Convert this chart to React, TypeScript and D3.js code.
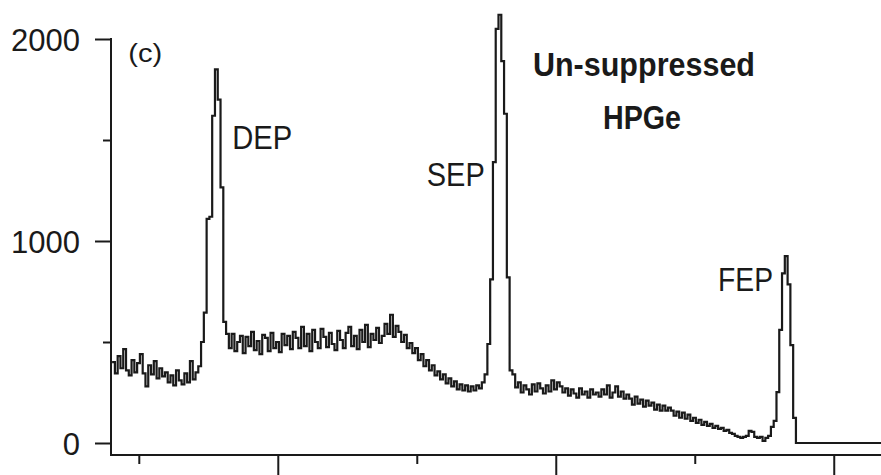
import React, { useEffect, useRef } from "react";
import * as d3 from "d3";

// gamma spectrum, 5 keV bins starting at 1202 keV (counts)
const binStart = 1202;
const binWidth = 5;
const counts = [
  // below DEP
  400, 345, 430, 370, 465, 360, 335, 410, 350, 395, 440, 345,
  280, 385, 340, 405, 320, 370, 330,
  350, 300, 335, 285, 360, 310, 290, 345, 300, 405, 315, 350,
  // DEP
  380, 500, 645, 1110, 1120, 1620, 1850, 1700, 1265, 600,
  540,
  // plateau between DEP and SEP
  470, 540, 455, 500, 530, 445, 525, 480, 550, 460, 505, 440, 535, 520, 455, 545, 470, 500, 450, 540, 485, 530,
  465, 550, 520, 470, 575, 480, 540, 455, 560, 500, 470, 565, 525, 475, 545,
  490, 460, 555, 510, 470, 545, 575, 480, 530, 465, 560, 500, 585, 475, 540, 510, 570, 495,
  530, 590, 540, 635, 525, 580, 550,
  500, 535, 470, 495, 445, 470, 410, 440, 380, 410, 360, 385, 335, 355, 315, 340,
  295, 320, 280, 305, 265, 290, 260, 285, 255, 280, 260, 285, 270, 300, 340,
  // SEP
  490, 810, 1390, 2050, 2120, 1890, 1630, 820, 360,
  // between SEP and FEP
  340, 275, 300, 250, 285, 265, 240, 290, 255, 295, 270, 245, 285, 255,
  310, 265, 300, 280, 250, 270,
  235, 265, 245, 225, 270, 240, 255, 225, 265, 240, 250,
  230, 265, 240, 285, 225, 250, 280, 230, 255, 220, 240,
  220, 190, 230, 195, 215, 180, 210, 185,
  200, 165, 190, 160, 185, 160, 175,
  160, 135, 155, 125, 150, 120, 140,
  110, 125, 100, 115, 90, 105, 85, 95, 75, 85, 70, 75, 60, 65, 50, 45, 35, 30,
  25, 30, 35, 60, 55, 30, 25, 30, 10, 25, 35,
  // FEP
  80, 110, 252, 560, 840, 925, 785, 485, 124,
  // above FEP
  0, 0, 0, 0, 0, 0, 0, 0, 0, 0,
  0, 0, 0, 0, 0, 0, 0, 0, 0, 0,
  0, 0, 0, 0, 0, 0, 0, 0, 0, 0,
];

const yMajorTicks = [0, 1000, 2000];
const yMinorTicks = [500, 1500];
const xMajorTicks = [1500, 2000, 2500];
const xMinorTicks = [1250, 1750, 2250];

const peakNames = ["DEP", "SEP", "FEP"];
const panelTag = "(c)";
const titleLines = ["Un-suppressed", "HPGe"];

const App = () => {
  const svgRef = useRef<SVGSVGElement>(null);

  useEffect(() => {
    const svg = d3.select(svgRef.current);
    svg.selectAll("*").remove();

    const x = d3.scaleLinear().domain([1200, 2585]).range([111, 881]);
    const y = d3.scaleLinear().domain([0, 2000]).range([443, 39]);
    const axisY = 455;
    const font = "'Liberation Sans', Arial, Helvetica, sans-serif";
    const ink = "#1a1a1a";

    // spectrum as a step line
    const pts: [number, number][] = counts.map((c, i) => [binStart + i * binWidth, c]);
    pts.push([x.domain()[1], counts[counts.length - 1]]);
    const line = d3
      .line<[number, number]>()
      .x((d) => x(d[0]))
      .y((d) => y(d[1]))
      .curve(d3.curveStepAfter);
    svg
      .append("path")
      .datum(pts)
      .attr("d", line)
      .attr("fill", "none")
      .attr("stroke", ink)
      .attr("stroke-width", 2.2);

    // y axis
    const gy = svg.append("g").attr("transform", "translate(111,0)");
    gy.append("g").call(
      d3.axisLeft(y).tickValues(yMajorTicks).tickSize(16).tickSizeOuter(0).tickPadding(15).tickFormat(d3.format("d"))
    );
    gy.append("g").call(d3.axisLeft(y).tickValues(yMinorTicks).tickSize(8).tickSizeOuter(0).tickFormat(() => ""));
    gy.selectAll(".domain").remove();
    gy.selectAll("line").attr("stroke", ink).attr("stroke-width", 2);
    gy.selectAll("text")
      .attr("font-family", font)
      .attr("font-size", 31)
      .attr("fill", ink)
      .attr("dy", "0.36em");
    gy.append("line").attr("x1", 0).attr("x2", 0).attr("y1", y(2000) - 1).attr("y2", axisY + 1)
      .attr("stroke", ink).attr("stroke-width", 2);

    // x axis (no labels)
    const gx = svg.append("g").attr("transform", `translate(0,${axisY})`);
    gx.append("g").call(d3.axisBottom(x).tickValues(xMajorTicks).tickSize(22).tickSizeOuter(0).tickFormat(() => ""));
    gx.append("g").call(d3.axisBottom(x).tickValues(xMinorTicks).tickSize(9).tickSizeOuter(0).tickFormat(() => ""));
    gx.selectAll(".domain").remove();
    gx.selectAll("line").attr("stroke", ink).attr("stroke-width", 2);
    gx.append("line").attr("x1", 110).attr("x2", 881).attr("y1", 0).attr("y2", 0)
      .attr("stroke", ink).attr("stroke-width", 2);

    // annotations, anchored in data units
    const labels = [
      { text: panelTag, e: 1231, c: 1886, size: 26, weight: "normal", len: 34 },
      { text: peakNames[0], e: 1418, c: 1455, size: 33, weight: "normal", len: 60 },
      { text: peakNames[1], e: 1768, c: 1272, size: 33, weight: "normal", len: 58 },
      { text: peakNames[2], e: 2292, c: 752, size: 33, weight: "normal", len: 55 },
      { text: titleLines[0], e: 1959, c: 1817, size: 33, weight: "bold", len: 222 },
      { text: titleLines[1], e: 2085, c: 1554, size: 33, weight: "bold", len: 78 },
    ];
    svg
      .selectAll("text.lab")
      .data(labels)
      .enter()
      .append("text")
      .attr("class", "lab")
      .attr("x", (d) => x(d.e))
      .attr("y", (d) => y(d.c))
      .attr("font-family", font)
      .attr("font-size", (d) => d.size)
      .attr("font-weight", (d) => d.weight)
      .attr("textLength", (d) => d.len)
      .attr("lengthAdjust", "spacingAndGlyphs")
      .attr("fill", ink)
      .text((d) => d.text);
  }, []);

  return (
    <div style={{ position: "absolute", left: 0, top: 0 }}>
      <svg ref={svgRef} width={881} height={475} style={{ display: "block", background: "#fff" }} />
    </div>
  );
};

export default App;
